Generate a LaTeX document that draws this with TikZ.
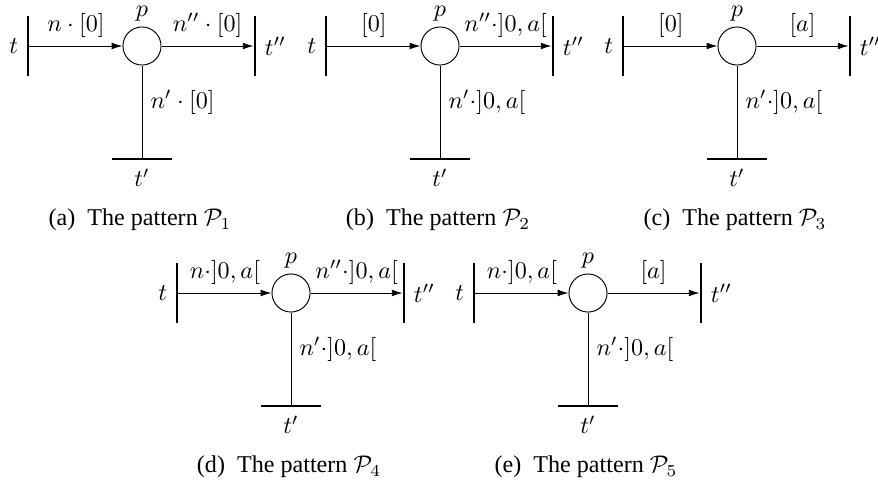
\documentclass[tikz,border=0pt]{standalone}
\usepackage[no-math]{fontspec}
\setmainfont{Liberation Serif}
\usetikzlibrary{arrows.meta,positioning}

\begin{document}
\begin{tikzpicture}[
  x=0.415pt, y=-0.415pt,
  place/.style={circle, draw, thin, minimum size=15.8pt, inner sep=0pt},
  vtrans/.style={rectangle, fill=black, minimum width=0.75pt, minimum height=25.3pt, inner sep=0pt},
  htrans/.style={rectangle, fill=black, minimum width=25.3pt, minimum height=0.6pt, inner sep=0pt},
  flowarc/.style={-{Latex[length=4.5pt,width=2.8pt]}, thin},
  plainarc/.style={thin},
  pname/.style={label={[label distance=-1.2pt]above:$p$}}
]
\useasboundingbox (0,0) rectangle (878,485);

% (a)
\begin{scope}[shift={(142,46)}, name prefix=a-]
\node[place, pname] (p) at (0,0) {};
\node[vtrans, label=left:$t$] (t) at (-114,0) {};
\node[vtrans, label=right:$t''$] (t2) at (113,0) {};
\node[htrans, label=below:$t'$] (t1) at (0,113) {};
\draw[flowarc] (t) -- node[above] (lin) {$n\cdot[0]$} (p);
\draw[flowarc] (p) -- node[above] (lout) {$n''\cdot[0]$} (t2);
\draw[plainarc] (p) -- node[right, pos=0.4] (ldown) {$n'\cdot[0]$} (t1);
\node (cap) at (-2,174) {(a)\enspace The pattern $\mathcal{P}_1$};
\end{scope}

% (b)
\begin{scope}[shift={(440,46)}, name prefix=b-]
\node[place, pname] (p) at (0,0) {};
\node[vtrans, label=left:$t$] (t) at (-114,0) {};
\node[vtrans, label=right:$t''$] (t2) at (113,0) {};
\node[htrans, label=below:$t'$] (t1) at (0,113) {};
\draw[flowarc] (t) -- node[above] (lin) {$[0]$} (p);
\draw[flowarc] (p) -- node[above] (lout) {$n''\cdot]0,a[$} (t2);
\draw[plainarc] (p) -- node[right, pos=0.4] (ldown) {$n'\cdot]0,a[$} (t1);
\node (cap) at (-2,174) {(b)\enspace The pattern $\mathcal{P}_2$};
\end{scope}

% (c)
\begin{scope}[shift={(737,46)}, name prefix=c-]
\node[place, pname] (p) at (0,0) {};
\node[vtrans, label=left:$t$] (t) at (-114,0) {};
\node[vtrans, label=right:$t''$] (t2) at (113,0) {};
\node[htrans, label=below:$t'$] (t1) at (0,113) {};
\draw[flowarc] (t) -- node[above] (lin) {$[0]$} (p);
\draw[flowarc] (p) -- node[above] (lout) {$[a]$} (t2);
\draw[plainarc] (p) -- node[right, pos=0.4] (ldown) {$n'\cdot]0,a[$} (t1);
\node (cap) at (-2,174) {(c)\enspace The pattern $\mathcal{P}_3$};
\end{scope}

% (d)
\begin{scope}[shift={(291,293)}, name prefix=d-]
\node[place, pname] (p) at (0,0) {};
\node[vtrans, label=left:$t$] (t) at (-114,0) {};
\node[vtrans, label=right:$t''$] (t2) at (113,0) {};
\node[htrans, label=below:$t'$] (t1) at (0,113) {};
\draw[flowarc] (t) -- node[above] (lin) {$n\cdot]0,a[$} (p);
\draw[flowarc] (p) -- node[above] (lout) {$n''\cdot]0,a[$} (t2);
\draw[plainarc] (p) -- node[right, pos=0.4] (ldown) {$n'\cdot]0,a[$} (t1);
\node (cap) at (-2,174) {(d)\enspace The pattern $\mathcal{P}_4$};
\end{scope}

% (e)
\begin{scope}[shift={(588,293)}, name prefix=e-]
\node[place, pname] (p) at (0,0) {};
\node[vtrans, label=left:$t$] (t) at (-114,0) {};
\node[vtrans, label=right:$t''$] (t2) at (113,0) {};
\node[htrans, label=below:$t'$] (t1) at (0,113) {};
\draw[flowarc] (t) -- node[above] (lin) {$n\cdot]0,a[$} (p);
\draw[flowarc] (p) -- node[above] (lout) {$[a]$} (t2);
\draw[plainarc] (p) -- node[right, pos=0.4] (ldown) {$n'\cdot]0,a[$} (t1);
\node (cap) at (-2,174) {(e)\enspace The pattern $\mathcal{P}_5$};
\end{scope}
\end{tikzpicture}
\end{document}
